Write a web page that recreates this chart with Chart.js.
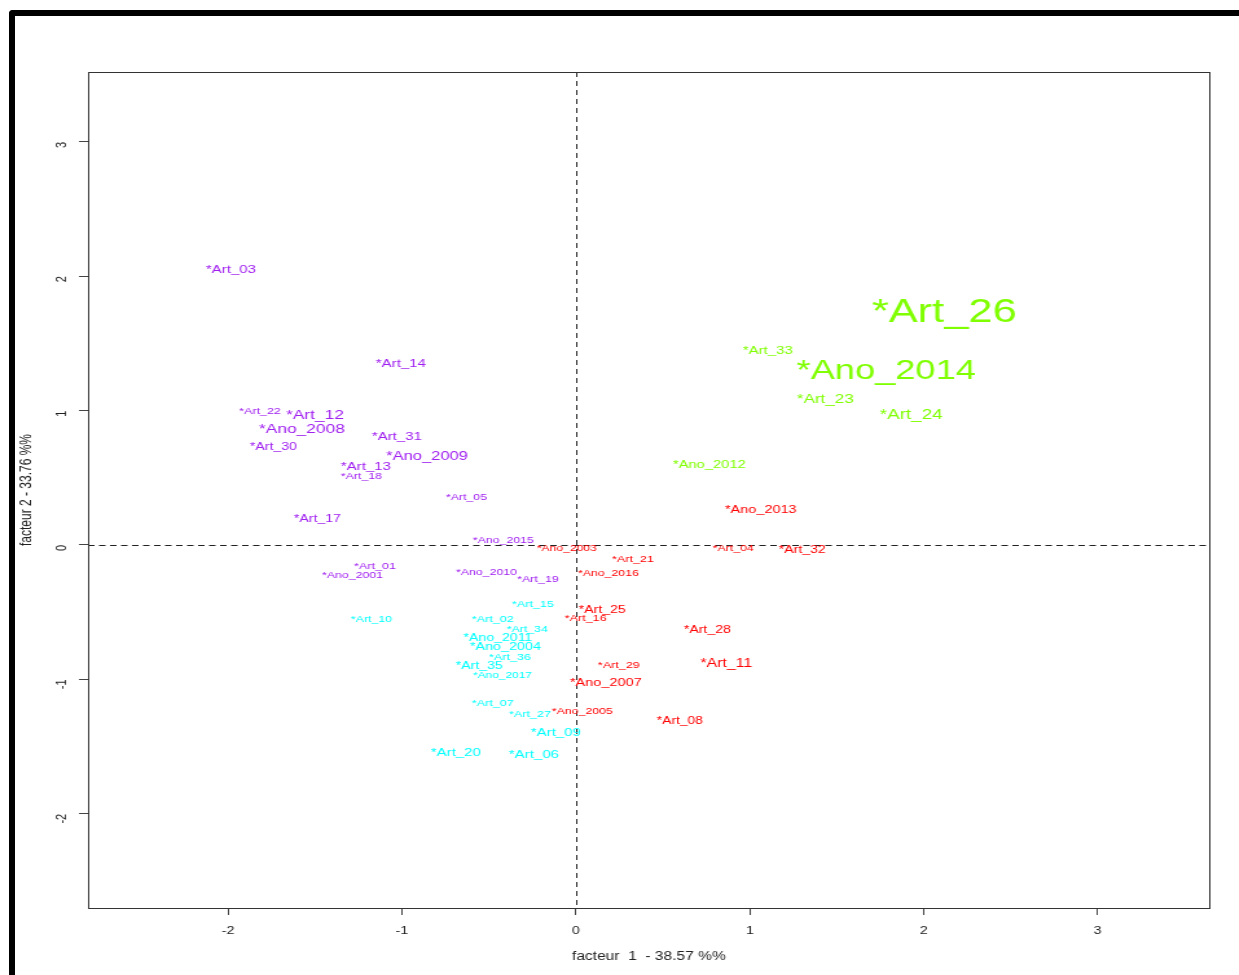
<!DOCTYPE html>
<html>
<head>
<meta charset="utf-8">
<script src="https://cdn.jsdelivr.net/npm/chart.js@4/dist/chart.umd.min.js"></script>
<style>
  html, body { margin: 0; padding: 0; background: #fff; overflow: hidden; width: 1239px; height: 975px; }
  #wrap { position: absolute; left: 0; top: 0; width: 957px; height: 975px; transform: scaleX(1.2946); transform-origin: 0 0; }
  #frame { position: absolute; left: 9px; top: 10px; width: 1300px; height: 1000px;
           border-top: 6px solid #000; border-left: 6px solid #000; border-top-left-radius: 4px;
           pointer-events: none; }
</style>
</head>
<body>
<div id="wrap"><canvas id="map" width="957" height="975"></canvas></div>
<div id="frame"></div>
<script>
// Factor map: articles (Art_xx) and years (Ano_xxxx) on the first two factors
const names = [
  'Art_03','Art_14','Art_22','Art_12','Ano_2008','Art_30','Art_31','Ano_2009','Art_13','Art_18',
  'Art_05','Art_17','Ano_2015','Art_01','Ano_2001','Ano_2010','Art_19',
  'Ano_2003','Art_21','Ano_2016','Ano_2013','Art_04','Art_32','Art_25','Art_16','Art_28',
  'Art_11','Art_29','Ano_2007','Ano_2005','Art_08',
  'Art_15','Art_10','Art_02','Art_34','Ano_2011','Ano_2004','Art_36','Art_35','Ano_2017',
  'Art_07','Art_27','Art_09','Art_20','Art_06',
  'Art_26','Art_33','Ano_2014','Art_23','Art_24','Ano_2012'
];
const factor1 = [
  -1.983,-1.006,-1.816,-1.500,-1.575,-1.739,-1.029,-0.856,-1.207,-1.233,
  -0.629,-1.486,-0.417,-1.155,-1.284,-0.514,-0.218,
  -0.052, 0.328, 0.187, 1.063, 0.905, 1.302, 0.152, 0.057, 0.756,
   0.865, 0.247, 0.172, 0.037, 0.598,
  -0.247,-1.175,-0.477,-0.279,-0.448,-0.405,-0.379,-0.555,-0.422,
  -0.477,-0.264,-0.115,-0.690,-0.241,
   2.118, 1.103, 1.784, 1.434, 1.928, 0.767
];
const factor2 = [
   2.061, 1.362, 1.004, 0.975, 0.871, 0.737, 0.818, 0.670, 0.595, 0.521,
   0.365, 0.201, 0.045,-0.149,-0.216,-0.193,-0.246,
  -0.015,-0.097,-0.201, 0.268,-0.015,-0.030,-0.476,-0.536,-0.625,
  -0.871,-0.885,-1.019,-1.228,-1.302,
  -0.432,-0.543,-0.543,-0.618,-0.685,-0.751,-0.826,-0.893,-0.960,
  -1.168,-1.250,-1.384,-1.533,-1.548,
   1.756, 1.458, 1.317, 1.094, 0.982, 0.610
];
// cluster membership of each label (1..4)
const cluster = [
  1,1,1,1,1,1,1,1,1,1,1,1,1,1,1,1,1,
  2,2,2,2,2,2,2,2,2,2,2,2,2,2,
  3,3,3,3,3,3,3,3,3,3,3,3,3,3,
  4,4,4,4,4,4
];
// text expansion factor of each label
const labelCex = [
  1.16,1.16,0.97,1.34,1.34,1.09,1.16,1.28,1.16,0.95,
  0.95,1.09,0.95,0.97,0.95,0.95,0.97,
  0.94,0.97,0.95,1.12,0.95,1.09,1.09,0.97,1.09,
  1.23,0.97,1.12,0.95,1.07,
  0.97,0.95,0.97,0.95,1.09,1.11,0.97,1.09,0.92,
  0.97,0.97,1.16,1.16,1.16,
  3.36,1.16,2.80,1.32,1.46,1.14
];
const clusterIds = [1, 2, 3, 4];
const clusterColors = ['#A020F0', '#FF0000', '#00FFFF', '#7FFF00'];
const xTicks = [-2, -1, 0, 1, 2, 3];
const yTicks = [-2, -1, 0, 1, 2, 3];
const xTitle = 'facteur  1  - 38.57 %%';
const yTitle = 'facteur 2 - 33.76 %%';

const FONT = "'Liberation Sans', Arial, sans-serif";
const BASE_PX = 10;

const datasets = clusterIds.map((c, k) => {
  const idx = cluster.map((v, i) => v === c ? i : -1).filter(i => i >= 0);
  return {
    label: 'cluster ' + c,
    data: idx.map(i => ({ x: factor1[i], y: factor2[i], name: names[i], cex: labelCex[i] })),
    pointRadius: 0,
    pointHoverRadius: 0,
    color: clusterColors[k],
    backgroundColor: clusterColors[k],
    borderColor: clusterColors[k]
  };
});

// dashed reference lines through the origin
const originLines = {
  id: 'originLines',
  beforeDatasetsDraw(chart) {
    const { ctx, chartArea: a, scales: { x, y } } = chart;
    const px = Math.round(x.getPixelForValue(0)) + 0.5;
    const py = Math.round(y.getPixelForValue(0)) + 0.5;
    ctx.save();
    ctx.strokeStyle = '#222';
    ctx.lineWidth = 1;
    ctx.setLineDash([5, 3.5]);
    ctx.beginPath();
    ctx.moveTo(a.left, py); ctx.lineTo(a.right, py);
    ctx.stroke();
    ctx.setLineDash([5, 4]);
    ctx.beginPath();
    ctx.moveTo(px, a.top); ctx.lineTo(px, a.bottom);
    ctx.stroke();
    ctx.restore();
  }
};

// "*name" text centred on each coordinate (cap height centred vertically)
const pointLabels = {
  id: 'pointLabels',
  afterDatasetsDraw(chart) {
    const { ctx } = chart;
    ctx.save();
    ctx.textAlign = 'center';
    ctx.textBaseline = 'alphabetic';
    chart.data.datasets.forEach((ds, di) => {
      const meta = chart.getDatasetMeta(di);
      ctx.fillStyle = ds.color;
      meta.data.forEach((el, j) => {
        const d = ds.data[j];
        const fs = BASE_PX * d.cex;
        ctx.font = fs.toFixed(1) + 'px ' + FONT;
        ctx.fillText('*' + d.name, el.x, el.y + 0.373 * fs + 0.3);
      });
    });
    ctx.restore();
  }
};

// plot box
const plotBox = {
  id: 'plotBox',
  afterDraw(chart) {
    const { ctx, chartArea: a } = chart;
    ctx.save();
    ctx.strokeStyle = '#333';
    ctx.lineWidth = 1;
    ctx.strokeRect(Math.round(a.left) + 0.5, Math.round(a.top) + 0.5,
                   Math.round(a.right - a.left), Math.round(a.bottom - a.top));
    ctx.restore();
  }
};

new Chart(document.getElementById('map'), {
  type: 'scatter',
  data: { datasets },
  plugins: [originLines, pointLabels, plotBox],
  options: {
    responsive: false,
    animation: false,
    devicePixelRatio: 1,
    layout: { padding: { left: 0, right: 22.6, top: 72, bottom: 0 } },
    plugins: { legend: { display: false }, tooltip: { enabled: false } },
    events: [],
    scales: {
      x: {
        type: 'linear',
        min: -2.8046, max: 3.6437,
        afterFit(s) { s.height = 67; },
        afterBuildTicks(s) { s.ticks = xTicks.map(v => ({ value: v })); },
        ticks: { includeBounds: false, color: '#222', padding: 9, font: { family: FONT, size: 11 }, maxRotation: 0 },
        grid: { display: true, drawOnChartArea: false, drawTicks: true, tickLength: 7, color: '#444', lineWidth: 1 },
        border: { display: false },
        title: { display: true, text: xTitle, color: '#222', font: { family: FONT, size: 12 }, padding: { top: 0, bottom: 10.8 } }
      },
      y: {
        type: 'linear',
        min: -2.7009, max: 3.5193,
        afterFit(s) { s.width = 68; },
        afterBuildTicks(s) { s.ticks = yTicks.map(v => ({ value: v })); },
        ticks: { includeBounds: false, color: '#222', padding: 13, minRotation: 90, maxRotation: 90, font: { family: FONT, size: 11 } },
        grid: { display: true, drawOnChartArea: false, drawTicks: true, tickLength: 7, color: '#444', lineWidth: 1 },
        border: { display: false },
        title: { display: true, text: yTitle, color: '#222', font: { family: FONT, size: 12 }, padding: { top: 13.7, bottom: 0 } }
      }
    }
  }
});
</script>
</body>
</html>
